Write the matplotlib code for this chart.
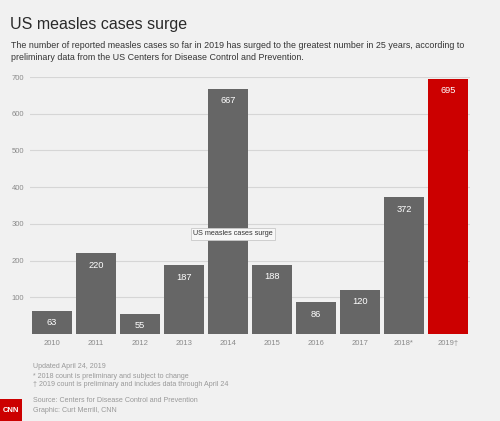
import matplotlib
matplotlib.use('Agg')
import matplotlib.pyplot as plt
from matplotlib.patches import Rectangle

# 数据
years = ['2010', '2011', '2012', '2013', '2014', '2015', '2016', '2017', '2018*', '2019†']
cases = [63, 220, 55, 187, 667, 188, 86, 120, 372, 695]
yticks = [100, 200, 300, 400, 500, 600, 700]

bg = '#f1f1f1'
grey_bar = '#666666'
red_bar = '#cc0000'
plt.rcParams['font.family'] = ['Liberation Sans', 'DejaVu Sans']

fig = plt.figure(figsize=(5, 4.21), dpi=100, facecolor=bg)
ax = fig.add_axes([30 / 500, 1 - 334 / 421, 440 / 500, 257 / 421])
ax.set_facecolor(bg)

colors = [grey_bar] * (len(years) - 1) + [red_bar]
x = list(range(len(years)))
bars = ax.bar(x, cases, width=0.9, color=colors, zorder=3)
for b, v in zip(bars, cases):
    ax.annotate(str(v), (b.get_x() + b.get_width() / 2, v), xytext=(0, -8.5),
                textcoords='offset points', ha='center', va='center',
                color='white', fontsize=6.7, zorder=4)

ax.set_xlim(-0.5, 9.5)
ax.set_ylim(0, 700)
ax.set_yticks(yticks)
ax.set_xticks(x)
ax.set_xticklabels(years)
ax.grid(axis='y', color='#d6d6d6', linewidth=0.8, zorder=0)
for s in ax.spines.values():
    s.set_visible(False)
ax.tick_params(axis='both', length=0, labelsize=5.5, colors='#8a8a8a')
ax.tick_params(axis='y', pad=4)
ax.tick_params(axis='x', pad=4)

# 提示框
fig.text(233 / 500, 1 - 234 / 421, 'US measles cases surge', ha='center', va='center',
         fontsize=5.2, color='#333333',
         bbox=dict(boxstyle='square,pad=0.3', facecolor='#f7f7f7', edgecolor='#c8c8c8', linewidth=0.6))

# 标题
fig.text(10 / 500, 1 - 25 / 421, 'US measles cases surge', fontsize=11.5, color='#2a2a2a',
         va='center')
fig.text(11 / 500, 1 - 45 / 421,
         'The number of reported measles cases so far in 2019 has surged to the greatest number in 25 years, according to',
         fontsize=6.4, color='#333333', va='center')
fig.text(11 / 500, 1 - 58 / 421,
         'preliminary data from the US Centers for Disease Control and Prevention.',
         fontsize=6.4, color='#333333', va='center')

# 脚注
notes = ['Updated April 24, 2019',
         '* 2018 count is preliminary and subject to change',
         '† 2019 count is preliminary and includes data through April 24']
for i, t in enumerate(notes):
    fig.text(33 / 500, 1 - (367 + i * 9) / 421, t, fontsize=5.1, color='#999999', va='center')
fig.text(33 / 500, 1 - 401 / 421, 'Source: Centers for Disease Control and Prevention',
         fontsize=5.1, color='#999999', va='center')
fig.text(33 / 500, 1 - 410 / 421, 'Graphic: Curt Merrill, CNN',
         fontsize=5.1, color='#999999', va='center')

# CNN 标志
fig.patches.append(Rectangle((0, 0), 22 / 500, 22 / 421, transform=fig.transFigure,
                             facecolor='#cc0000', edgecolor='none'))
fig.text(11 / 500, 11 / 421, 'CNN', ha='center', va='center', fontsize=5.5,
         color='white', fontweight='bold')

fig.savefig('out.png', dpi=100, facecolor=bg)
